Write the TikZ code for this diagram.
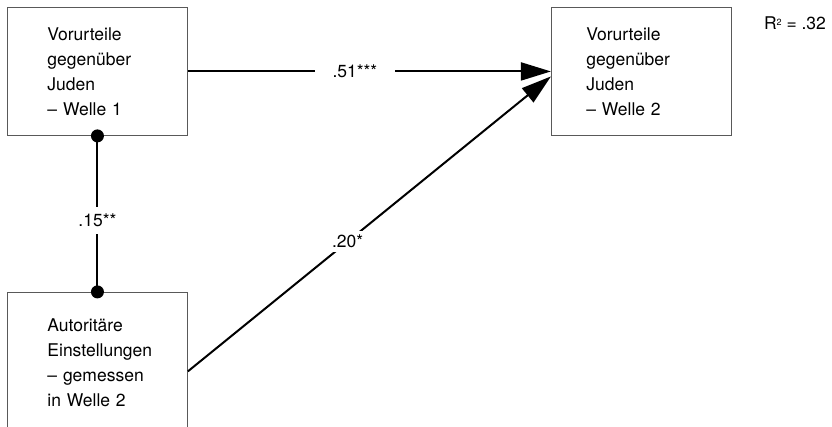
\documentclass[tikz,border=0pt]{standalone}
\usepackage{fontspec}
\setmainfont{TeX Gyre Heros}
\usetikzlibrary{arrows.meta,positioning}

\begin{document}
\begin{tikzpicture}[every node/.style={font=\fontsize{17.5}{25}\selectfont}]
\tikzset{var/.style={draw=black!65, line width=0.9pt, align=left, text width=100pt,
  inner xsep=40pt, inner ysep=0pt, minimum height=128pt},
  link/.style={line width=2pt},
  coef/.style={fill=white, inner sep=4pt}}
\useasboundingbox (0,0) rectangle (832pt,-427pt);
\clip (0,0) rectangle (832pt,-427pt);
\node[var, anchor=north west] (prej1) at (7pt,-7pt) {Vorurteile\\ gegenüber\\ Juden\\ – Welle 1};
\node[var, right=363pt of prej1, inner xsep=35pt, text width=110pt] (prej2) {Vorurteile\\ gegenüber\\ Juden\\ – Welle 2};
\node[var, below=156pt of prej1, minimum height=140pt] (auth) {Autoritäre\\ Einstellungen\\ – gemessen\\ in Welle 2};
\node (rsq) at (795pt,-23pt) {R{\fontsize{9}{9}\selectfont\raisebox{4pt}{2}} = .32};
\draw[link, -{Triangle[length=30pt, width=18pt]}] (prej1) -- node[coef, inner xsep=18pt, pos=0.46] {.51***} (prej2);
\draw[link, -{Triangle[length=30pt, width=18pt]}] ([yshift=-9pt]auth.east) -- node[coef, pos=0.44] {.20*} ([yshift=-5pt]prej2.west);
\draw[link] (prej1) -- node[coef, inner ysep=7pt, pos=0.54] {.15**} (auth);
\fill (prej1.south) circle (6.5pt) (auth.north) circle (6.5pt);
\end{tikzpicture}
\end{document}
